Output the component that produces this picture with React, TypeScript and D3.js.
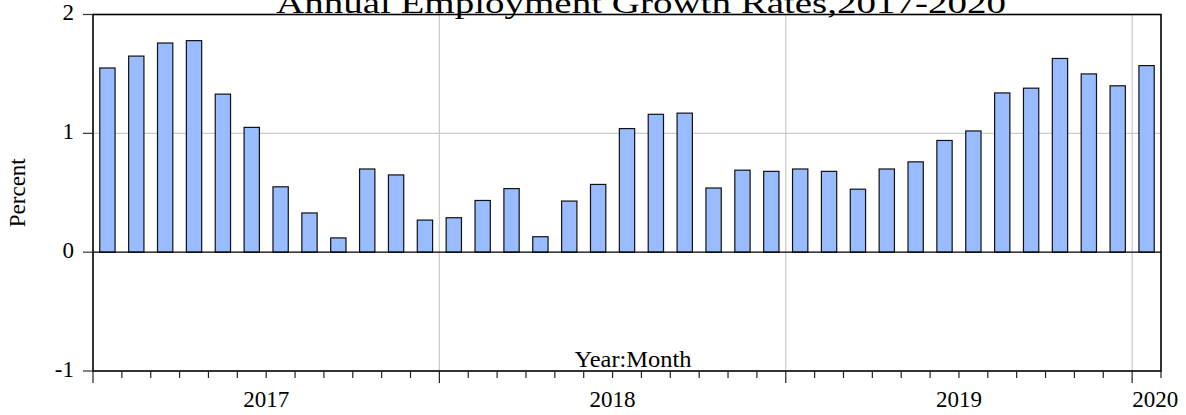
import * as d3 from "d3";
import React from "react";

// Monthly annual employment growth, Jan 2017 .. Jan 2020
const growth2017 = [1.55, 1.65, 1.76, 1.78, 1.33, 1.05, 0.55, 0.33, 0.12, 0.7, 0.65, 0.27];
const growth2018 = [0.29, 0.435, 0.535, 0.13, 0.43, 0.57, 1.04, 1.16, 1.17, 0.54, 0.69, 0.68];
const growth2019 = [0.7, 0.68, 0.53, 0.7, 0.76, 0.94, 1.02, 1.34, 1.38, 1.63, 1.5, 1.4];
const growth2020 = [1.57];

const yearLabels = ["2017", "2018", "2019", "2020"];
const yTicks = [-1, 0, 1, 2];

const title = "Annual Employment Growth Rates,2017-2020";
const xTitle = "Year:Month";
const yTitle = "Percent";

export default function App() {
  const W = 1186;
  const H = 415;
  const left = 93;
  const right = 1161;
  const top = 14.5;
  const bottom = 371;

  const years = [growth2017, growth2018, growth2019, growth2020];
  const values = years.flat();
  const n = values.length;

  const xm = d3.scaleLinear().domain([0, n]).range([left, right]);
  const xb = d3
    .scaleBand<number>()
    .domain(d3.range(n))
    .range([left, right])
    .paddingInner(0.47)
    .paddingOuter(0.235);
  const y = d3.scaleLinear().domain([-1, 2]).range([bottom, top]);

  // month index where each year starts
  const yearStart = years.map((_, i) => d3.sum(years.slice(0, i), (a) => a.length));

  const font = "'Liberation Serif', 'Times New Roman', serif";

  return (
    <div style={{ position: "fixed", left: 0, top: 0 }}>
      <svg width={W} height={H} style={{ display: "block", background: "#fff" }}>
        {/* grid */}
        {yTicks
          .filter((t) => t > -1 && t < 2 && t !== 0)
          .map((t) => (
            <line key={`gy${t}`} x1={left} x2={right} y1={y(t)} y2={y(t)} stroke="#cccccc" strokeWidth={1.3} />
          ))}
        {yearStart.slice(1).map((m) => (
          <line key={`gx${m}`} x1={xm(m)} x2={xm(m)} y1={top} y2={bottom} stroke="#cccccc" strokeWidth={1.3} />
        ))}

        {/* bars */}
        {values.map((v, i) => (
          <rect
            key={`b${i}`}
            x={xb(i)}
            y={y(Math.max(v, 0))}
            width={xb.bandwidth()}
            height={Math.abs(y(v) - y(0))}
            fill="#99bbff"
            stroke="#111"
            strokeWidth={1.2}
          />
        ))}

        <line x1={left} x2={right} y1={y(0)} y2={y(0)} stroke="#000" strokeWidth={1.3} />

        {/* frame */}
        <rect x={left} y={top} width={right - left} height={bottom - top} fill="none" stroke="#000" strokeWidth={1.6} />

        {/* y axis */}
        {yTicks.map((t) => (
          <g key={`yt${t}`}>
            <line x1={left - 10} x2={left} y1={y(t)} y2={y(t)} stroke="#333" strokeWidth={1.2} />
            <text x={74} y={y(t) + 5.5} textAnchor="end" fontFamily={font} fontSize={23}>
              {t}
            </text>
          </g>
        ))}

        {/* x axis ticks */}
        {d3.range(n + 1).map((m) => {
          const major = yearStart.includes(m);
          return (
            <line
              key={`xt${m}`}
              x1={xm(m)}
              x2={xm(m)}
              y1={bottom}
              y2={bottom + (major ? 12 : 7)}
              stroke="#222"
              strokeWidth={1.2}
            />
          );
        })}
        {yearLabels.map((lab, i) => {
          const s = yearStart[i];
          const len = years[i].length;
          const full = len === 12;
          return (
            <text
              key={lab}
              x={full ? xm(s + len / 2) : xm(s)}
              y={407}
              textAnchor={full ? "middle" : "start"}
              fontFamily={font}
              fontSize={23}
            >
              {lab}
            </text>
          );
        })}

        <text x={633} y={366.5} textAnchor="middle" fontFamily={font} fontSize={23} textLength={117} lengthAdjust="spacingAndGlyphs">
          {xTitle}
        </text>

        <text
          transform={`translate(25, ${(top + bottom) / 2}) rotate(-90)`}
          textAnchor="middle"
          fontFamily={font}
          fontSize={23}
        >
          {yTitle}
        </text>

        <text x={641} y={13} textAnchor="middle" fontFamily={font} fontSize={30} textLength={730} lengthAdjust="spacingAndGlyphs">
          {title}
        </text>
      </svg>
    </div>
  );
}
